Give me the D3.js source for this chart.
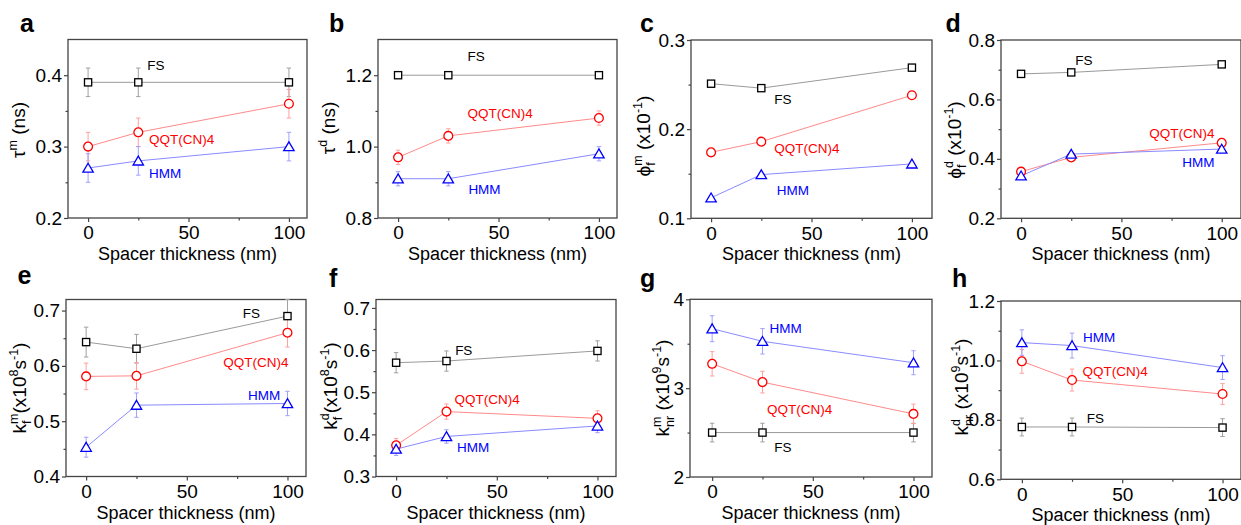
<!DOCTYPE html>
<html lang="en">
<head>
<meta charset="UTF-8">
<title>Spacer thickness</title>
<script src="https://cdn.jsdelivr.net/npm/d3@7/dist/d3.min.js"></script>
<style>
  body { margin: 0; background: #fff; }
  svg { font-family: "Liberation Sans", Arial, sans-serif; }
</style>
</head>
<body>
<div class="chart"></div>
<script>
const width = 1241
const height = 525

const thickness = [0, 25, 100]
const seriesNames = ['FS', 'QQT(CN)4', 'HMM']

// one row per series, same order as seriesNames
const tauM = [[0.39, 0.39, 0.39], [0.30, 0.32, 0.36], [0.27, 0.28, 0.30]]
const tauMErr = [[0.02, 0.02, 0.02], [0.02, 0.02, 0.02], [0.02, 0.02, 0.02]]
const tauD = [[1.2, 1.2, 1.2], [0.97, 1.03, 1.08], [0.91, 0.91, 0.98]]
const tauDErr = [[0, 0, 0], [0.02, 0.02, 0.02], [0.02, 0.02, 0.02]]
const phiM = [[0.251, 0.246, 0.269], [0.174, 0.186, 0.238], [0.123, 0.149, 0.161]]
const phiD = [[0.686, 0.691, 0.718], [0.357, 0.405, 0.454], [0.343, 0.416, 0.433]]
const kfM = [[0.643, 0.631, 0.690], [0.581, 0.582, 0.660], [0.453, 0.529, 0.532]]
const kfMErr = [[0.027, 0.026, 0.03], [0.024, 0.024, 0.026], [0.018, 0.022, 0.022]]
const kfD = [[0.570, 0.574, 0.598], [0.374, 0.454, 0.438], [0.365, 0.395, 0.420]]
const kfDErr = [[0.024, 0.024, 0.024], [0.016, 0.018, 0.018], [0.015, 0.016, 0.016]]
const knrM = [[2.5, 2.5, 2.5], [3.274, 3.068, 2.71], [3.669, 3.527, 3.286]]
const knrMErr = [[0.105, 0.105, 0.105], [0.137, 0.122, 0.11], [0.146, 0.143, 0.135]]
const knrD = [[0.776, 0.776, 0.774], [0.997, 0.934, 0.887], [1.06, 1.05, 0.976]]
const knrDErr = [[0.03, 0.03, 0.03], [0.04, 0.037, 0.035], [0.043, 0.042, 0.04]]

const xTicks = [0, 50, 100]
const xMinor = [25, 75]
const tauMTicks = [0.2, 0.3, 0.4]
const tauDTicks = [0.8, 1.0, 1.2]
const phiMTicks = [0.1, 0.2, 0.3]
const phiDTicks = [0.2, 0.4, 0.6, 0.8]
const kfMTicks = [0.4, 0.5, 0.6, 0.7]
const kfDTicks = [0.3, 0.4, 0.5, 0.6, 0.7]
const knrMTicks = [2, 3, 4]
const knrDTicks = [0.6, 0.8, 1.0, 1.2]

const markerColor = ['#000000', '#ff0000', '#0000ff']
const lineColor = ['#9a9a9a', '#ff8a8a', '#8a8aff']
const errColor = ['#a0a0a0', '#ffa0a0', '#a0a0ff']
const shapes = ['square', 'circle', 'triangle']

const panels = [
    { letter: 'a', lx: 20, ly: 31.7, values: tauM, errors: tauMErr,
      x: 68, y: 39.5, w: 239, h: 178.5, xDomain: [-10, 109], yDomain: [0.2, 0.45],
      yTicks: tauMTicks, fmt: '.1f',
      title: [{ t: 'τ' }, { sup: 'm' }, { t: ' (ns)' }], tx: 25, ty: 130,
      tags: [[29.5, 0.414, 'start'], [30.3, 0.31, 'start'], [30.3, 0.263, 'start']] },
    { letter: 'b', lx: 329, ly: 31.7, values: tauD, errors: tauDErr,
      x: 378, y: 39.5, w: 239, h: 178.5, xDomain: [-10, 109], yDomain: [0.8, 1.3],
      yTicks: tauDTicks, fmt: '.1f',
      title: [{ t: 'τ' }, { sup: 'd' }, { t: ' (ns)' }], tx: 335, ty: 128,
      tags: [[34.6, 1.254, 'start'], [34.6, 1.095, 'start'], [35, 0.88, 'start']] },
    { letter: 'c', lx: 640, ly: 31.7, values: phiM, errors: null,
      x: 691, y: 40, w: 241, h: 178.3, xDomain: [-10, 110], yDomain: [0.1, 0.3],
      yTicks: phiMTicks, fmt: '.1f',
      title: [{ t: 'ϕ' }, { sup: 'm', sub: 'f' }, { t: ' (x10' }, { sup: '-1' }, { t: ')' }], tx: 650, ty: 136,
      tags: [[31.4, 0.234, 'start'], [31.4, 0.179, 'start'], [32.7, 0.132, 'start']] },
    { letter: 'd', lx: 945.5, ly: 31.7, values: phiD, errors: null,
      x: 1001, y: 40, w: 240, h: 178.3, xDomain: [-10, 109.6], yDomain: [0.2, 0.8],
      yTicks: phiDTicks, fmt: '.1f',
      title: [{ t: 'ϕ' }, { sup: 'd', sub: 'f' }, { t: ' (x10' }, { sup: '-1' }, { t: ')' }], tx: 961, ty: 140,
      tags: [[27, 0.733, 'start'], [96.4, 0.486, 'end'], [96.4, 0.39, 'end']] },
    { letter: 'e', lx: 17.5, ly: 283.7, values: kfM, errors: kfMErr,
      x: 66, y: 299.5, w: 240, h: 177, xDomain: [-10, 109.2], yDomain: [0.4, 0.72],
      yTicks: kfMTicks, fmt: '.1f',
      title: [{ t: 'k' }, { sup: 'm', sub: 'f' }, { t: '(x10' }, { sup: '8' }, { t: 's' }, { sup: '-1' }, { t: ')' }], tx: 26, ty: 388,
      tags: [[86.4, 0.695, 'end'], [100.5, 0.607, 'end'], [96.4, 0.547, 'end']] },
    { letter: 'f', lx: 329, ly: 287, values: kfD, errors: kfDErr,
      x: 376, y: 299.5, w: 240, h: 177, xDomain: [-10, 109.2], yDomain: [0.3, 0.72],
      yTicks: kfDTicks, fmt: '.1f',
      title: [{ t: 'k' }, { sup: 'd', sub: 'f' }, { t: '(x10' }, { sup: '8' }, { t: 's' }, { sup: '-1' }, { t: ')' }], tx: 337, ty: 386,
      tags: [[29.3, 0.601, 'start'], [29, 0.483, 'start'], [30.2, 0.369, 'start']] },
    { letter: 'g', lx: 640, ly: 287, values: knrM, errors: knrMErr,
      x: 690, y: 299.3, w: 242, h: 177.7, xDomain: [-11, 109.2], yDomain: [2, 4],
      yTicks: knrMTicks, fmt: 'd',
      title: [{ t: 'k' }, { sup: 'm', sub: 'nr' }, { t: ' (x10' }, { sup: '9' }, { t: 's' }, { sup: '-1' }, { t: ')' }], tx: 669, ty: 388,
      tags: [[30.8, 2.34, 'start'], [27.2, 2.76, 'start'], [28.5, 3.68, 'start']] },
    { letter: 'h', lx: 952, ly: 287, values: knrD, errors: knrDErr,
      x: 1001, y: 301, w: 240, h: 178.3, xDomain: [-10.4, 109.2], yDomain: [0.6, 1.2],
      yTicks: knrDTicks, fmt: '.1f',
      title: [{ t: 'k' }, { sup: 'd', sub: 'nr' }, { t: ' (x10' }, { sup: '9' }, { t: 's' }, { sup: '-1' }, { t: ')' }], tx: 968, ty: 387,
      tags: [[32.3, 0.806, 'start'], [30.2, 0.963, 'start'], [30.5, 1.08, 'start']] }
]

const svg = d3.select('.chart')
    .append('svg')
    .attr('width', width)
    .attr('height', height)

// text with stacked sub/superscripts, built from tspans
function richText(parent, parts, size) {
    const text = parent.append('text')
        .attr('font-size', size)
        .attr('text-anchor', 'middle')
        .style('white-space', 'pre')
    const small = size * 0.66
    const up = -size * 0.42
    const down = size * 0.24
    let level = 0
    let pendingDx = 0
    parts.forEach(p => {
        if (p.t != null) {
            text.append('tspan').text(p.t).attr('dy', -level).attr('dx', pendingDx)
            level = 0
            pendingDx = 0
        } else {
            const sp = text.append('tspan').text(p.sup)
                .attr('font-size', small).attr('dy', up - level).attr('dx', pendingDx)
            level = up
            pendingDx = 0
            if (p.sub) {
                const w1 = sp.node().getComputedTextLength()
                const sb = text.append('tspan').text(p.sub)
                    .attr('font-size', small).attr('dx', -w1).attr('dy', down - level)
                level = down
                const w2 = sb.node().getComputedTextLength()
                pendingDx = Math.max(0, w1 - w2)
            }
        }
    })
    return text
}

function marker(g, shape, color) {
    if (shape === 'square') {
        g.append('rect').attr('x', -3.6).attr('y', -3.6).attr('width', 7.2).attr('height', 7.2)
    } else if (shape === 'circle') {
        g.append('circle').attr('r', 4.4)
    } else {
        g.append('path').attr('d', 'M0,-4.8L5.2,4.1L-5.2,4.1Z')
    }
    g.selectAll('*')
        .attr('fill', '#fff')
        .attr('stroke', color)
        .attr('stroke-width', 1.3)
}

function drawPanel(p) {
    const g = svg.append('g')
    const xScale = d3.scaleLinear().domain(p.xDomain).range([p.x, p.x + p.w])
    const yScale = d3.scaleLinear().domain(p.yDomain).range([p.y + p.h, p.y])
    const step = p.yTicks[1] - p.yTicks[0]
    const yMinor = p.yTicks.map(v => v + step / 2).filter(v => v < p.yDomain[1] - 1e-9)

    // axes
    const ax = g.append('g').attr('transform', `translate(0, ${p.y + p.h})`)
    ax.call(d3.axisBottom(xScale).tickValues(xTicks).tickSize(4).tickPadding(4).tickFormat(d3.format('d')))
    ax.append('g').call(d3.axisBottom(xScale).tickValues(xMinor).tickSize(2.5).tickFormat(''))
    const ay = g.append('g').attr('transform', `translate(${p.x}, 0)`)
    ay.call(d3.axisLeft(yScale).tickValues(p.yTicks).tickSize(4).tickPadding(2).tickFormat(d3.format(p.fmt)))
    ay.append('g').call(d3.axisLeft(yScale).tickValues(yMinor).tickSize(2.5).tickFormat(''))
    g.selectAll('.domain').remove()
    g.selectAll('.tick line').attr('stroke', '#444').attr('stroke-width', 1.2)
    g.selectAll('.tick text').attr('fill', '#000').attr('font-size', 19)
        .attr('font-family', '"Liberation Sans", Arial, sans-serif')

    g.append('rect')
        .attr('x', p.x).attr('y', p.y).attr('width', p.w).attr('height', p.h)
        .attr('fill', 'none').attr('stroke', '#444').attr('stroke-width', 1.3)

    // axis titles
    g.append('text')
        .attr('x', p.x + p.w / 2).attr('y', p.y + p.h + 42)
        .attr('text-anchor', 'middle').attr('font-size', 18)
        .text('Spacer thickness (nm)')
    const tg = g.append('g').attr('transform', `translate(${p.tx}, ${p.ty}) rotate(-90)`)
    richText(tg, p.title, 19)

    g.append('text')
        .attr('x', p.lx).attr('y', p.ly)
        .attr('font-size', 25).attr('font-weight', 'bold')
        .text(p.letter)

    const line = d3.line().x((d, i) => xScale(thickness[i])).y(d => yScale(d))

    p.values.forEach((vals, s) => {
        g.append('path')
            .datum(vals)
            .attr('d', line)
            .attr('fill', 'none')
            .attr('stroke', lineColor[s])
            .attr('stroke-width', 1)
    })

    if (p.errors) {
        p.values.forEach((vals, s) => {
            const eg = g.append('g').attr('stroke', errColor[s]).attr('stroke-width', 1)
            vals.forEach((v, i) => {
                const e = p.errors[s][i]
                if (!e) return
                const cx = xScale(thickness[i])
                const y0 = yScale(v - e)
                const y1 = yScale(v + e)
                eg.append('line').attr('x1', cx).attr('x2', cx).attr('y1', y0).attr('y2', y1)
                eg.append('line').attr('x1', cx - 2.2).attr('x2', cx + 2.2).attr('y1', y0).attr('y2', y0)
                eg.append('line').attr('x1', cx - 2.2).attr('x2', cx + 2.2).attr('y1', y1).attr('y2', y1)
            })
        })
    }

    p.values.forEach((vals, s) => {
        vals.forEach((v, i) => {
            const mg = g.append('g')
                .attr('transform', `translate(${xScale(thickness[i])}, ${yScale(v)})`)
            marker(mg, shapes[s], markerColor[s])
        })
    })

    p.tags.forEach((t, s) => {
        g.append('text')
            .attr('x', xScale(t[0])).attr('y', yScale(t[1]))
            .attr('dy', '0.36em')
            .attr('text-anchor', t[2])
            .attr('font-size', 13.5)
            .attr('fill', markerColor[s])
            .text(seriesNames[s])
    })
}

panels.forEach(drawPanel)
</script>
</body>
</html>
